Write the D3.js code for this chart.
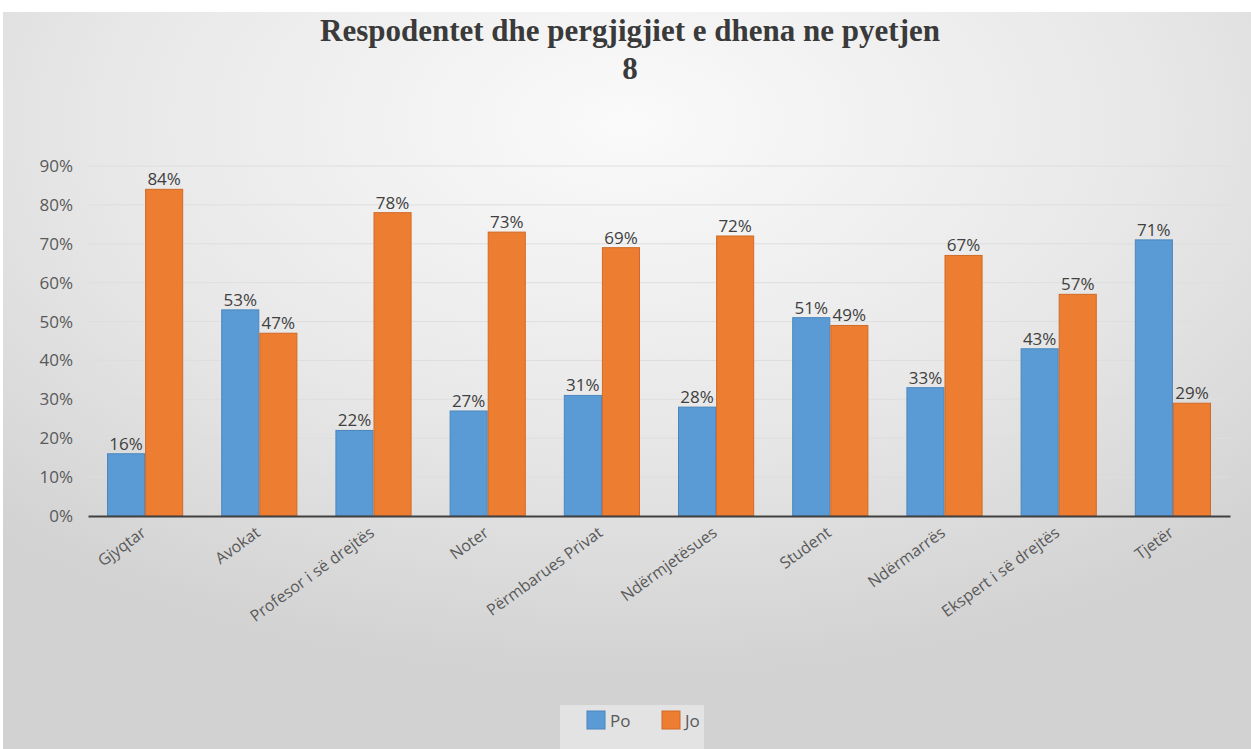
<!DOCTYPE html>
<html><head><meta charset="utf-8">
<script src="https://cdn.jsdelivr.net/npm/d3@7"></script>
<style>body{margin:0;background:#fff;}svg{display:block;}</style>
</head><body>
<svg id="chart" width="1251" height="749"></svg>
<script>
const categories = ["Gjyqtar","Avokat","Profesor i së drejtës","Noter","Përmbarues Privat","Ndërmjetësues","Student","Ndërmarrës","Ekspert i së drejtës","Tjetër"];
const seriesNames = ["Po","Jo"];
const poValues = [16,53,22,27,31,28,51,33,43,71];
const joValues = [84,47,78,73,69,72,49,67,57,29];
const yTicks = [0,10,20,30,40,50,60,70,80,90];
const titleLines = ["Respodentet dhe pergjigjiet e dhena ne pyetjen","8"];

const svg = d3.select("#chart");
const W = 1251, H = 749;
const FONT = "'Open Sans', sans-serif";
const defs = svg.append("defs");
const rg = defs.append("radialGradient").attr("id","bg").attr("cx","50%").attr("cy","15%").attr("r","75%");
rg.append("stop").attr("offset","0%").attr("stop-color","#fafafa");
rg.append("stop").attr("offset","55%").attr("stop-color","#e8e8e8");
rg.append("stop").attr("offset","100%").attr("stop-color","#d2d2d2");
svg.append("rect").attr("x",3).attr("y",12).attr("width",W-3).attr("height",H-12).attr("fill","url(#bg)");

const m = {left:88, right:1230, top:166, bottom:516};
const x = d3.scaleBand().domain(categories).range([m.left,m.right]).paddingInner(0.333).paddingOuter(0.1665);
const xs = d3.scaleBand().domain(seriesNames).range([0,x.bandwidth()]);
const y = d3.scaleLinear().domain([0,90]).range([m.bottom,m.top]);
const color = {Po:"#5b9bd5", Jo:"#ed7d31"};
const stroke = {Po:"#4a86bd", Jo:"#d06a27"};

// gridlines
svg.append("g").selectAll("line").data(yTicks.filter(d=>d>0)).join("line")
  .attr("x1",m.left).attr("x2",m.right).attr("y1",d=>y(d)).attr("y2",d=>y(d))
  .attr("stroke","#dedede").attr("stroke-width",1);

// y axis labels
const yAxis = d3.axisLeft(y).tickValues(yTicks).tickFormat(d=>d+"%").tickSize(0).tickPadding(15);
const gy = svg.append("g").attr("transform",`translate(${m.left},0)`).call(yAxis);
gy.select(".domain").remove();
gy.selectAll("text").attr("font-family",FONT).attr("font-size",17).attr("fill","#595959");

// bars
const data = categories.map((c,i)=>({cat:c, vals:[{s:"Po",v:poValues[i]},{s:"Jo",v:joValues[i]}]}));
const groups = svg.append("g").selectAll("g").data(data).join("g")
  .attr("transform",d=>`translate(${x(d.cat)},0)`);
groups.selectAll("rect").data(d=>d.vals).join("rect")
  .attr("x",d=>xs(d.s)+0.5).attr("width",xs.bandwidth()-1)
  .attr("y",d=>y(d.v)).attr("height",d=>y(0)-y(d.v))
  .attr("fill",d=>color[d.s]).attr("stroke",d=>stroke[d.s]).attr("stroke-width",1);
groups.selectAll("text").data(d=>d.vals).join("text")
  .attr("x",d=>xs(d.s)+xs.bandwidth()/2).attr("y",d=>y(d.v)-4)
  .attr("text-anchor","middle").attr("font-family",FONT).attr("font-size",17)
  .attr("fill","#404040").text(d=>d.v+"%");

// x axis
const xAxis = d3.axisBottom(x).tickSize(0).tickPadding(0);
const gx = svg.append("g").attr("transform",`translate(0,${m.bottom})`).call(xAxis);
gx.select(".domain").attr("stroke","#404040").attr("stroke-width",2);
gx.selectAll("text").attr("font-family",FONT).attr("font-size",16).attr("fill","#595959")
  .attr("text-anchor","end").attr("dy",0).attr("y",0).attr("transform","translate(2,19) rotate(-36)");

// title
svg.append("g").selectAll("text").data(titleLines).join("text")
  .attr("x",630).attr("y",(d,i)=>41+i*38).attr("text-anchor","middle")
  .attr("font-family","'Liberation Serif', serif").attr("font-weight","bold").attr("font-size",31)
  .attr("fill","#3a3a3a").text(d=>d);

// legend
const lg = svg.append("g");
lg.append("rect").attr("x",560).attr("y",705).attr("width",144).attr("height",44).attr("fill","#e6e6e6").attr("opacity",0.85);
const li = lg.selectAll("g").data(seriesNames).join("g").attr("transform",(d,i)=>`translate(${587+i*75},711)`);
li.append("rect").attr("width",18).attr("height",18).attr("fill",d=>color[d]).attr("stroke",d=>stroke[d]);
li.append("text").attr("x",23).attr("y",16).attr("font-family",FONT).attr("font-size",17).attr("fill","#595959").text(d=>d);
</script>
</body></html>
